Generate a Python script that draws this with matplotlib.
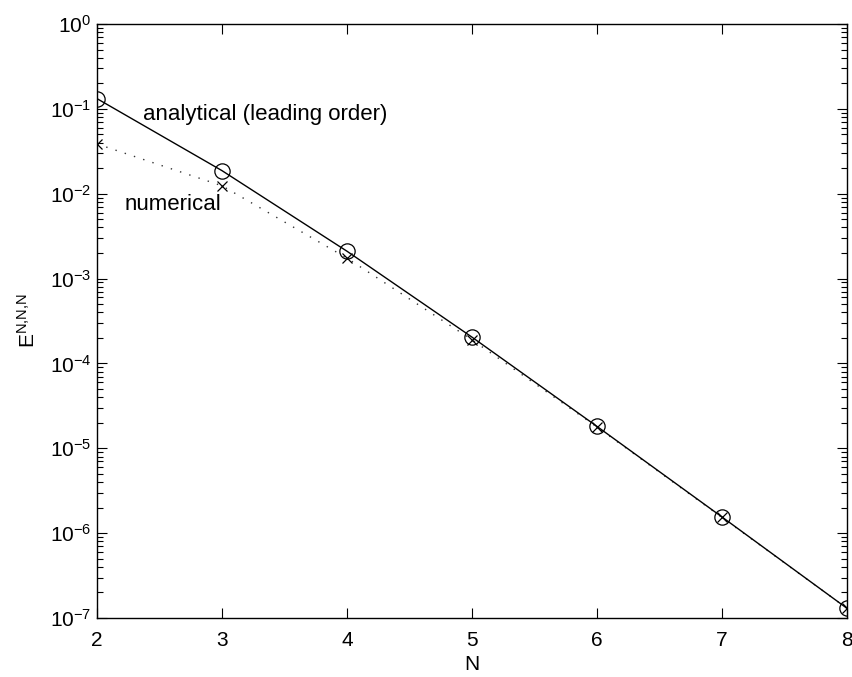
import matplotlib
matplotlib.use("Agg")
import matplotlib.pyplot as plt
from matplotlib.ticker import LogLocator, FixedLocator

plt.rcParams['font.family'] = ['Liberation Sans', 'DejaVu Sans']
plt.rcParams['mathtext.fontset'] = 'custom'
plt.rcParams['mathtext.rm'] = 'Liberation Sans'
plt.rcParams['mathtext.it'] = 'Liberation Sans:italic'
plt.rcParams['mathtext.bf'] = 'Liberation Sans:bold'
plt.rcParams['mathtext.default'] = 'regular'

N = [2, 3, 4, 5, 6, 7, 8]
analytical = [0.132, 0.0187, 0.0021, 2.04e-4, 1.81e-5, 1.55e-6, 1.3e-7]
numerical = [0.0386, 0.0124, 0.00174, 1.9e-4, 1.78e-5, 1.53e-6, 1.3e-7]

fig = plt.figure(figsize=(8.53, 6.77), dpi=100)
ax = fig.add_axes([97/853, 1 - 618/677, (847-97)/853, (618-24)/677])

ax.plot(N, numerical, linestyle=(0, (1, 6)), color='#333333', lw=1.0)
ax.plot(N, numerical, linestyle='none', marker='x', color='black', ms=7, mew=0.9)
ax.plot(N, analytical, linestyle='-', color='black', lw=1.0)
ax.plot(N, analytical, linestyle='none', marker='o', mfc='none', mec='black', ms=11, mew=0.9)

ax.set_yscale('log')
ax.set_xlim(2, 8)
ax.set_ylim(1e-7, 1e0)
ax.xaxis.set_major_locator(FixedLocator(N))
ax.yaxis.set_major_locator(LogLocator(base=10, numticks=20))
ax.yaxis.set_minor_locator(LogLocator(base=10, subs=range(2, 10), numticks=20))
ax.tick_params(axis='both', which='both', direction='in', top=True, right=True,
               labelsize=15, width=0.8)
ax.tick_params(which='major', length=7)
ax.tick_params(which='minor', length=4)
ax.tick_params(axis='x', pad=9)
ax.tick_params(axis='y', pad=4)
for s in ax.spines.values():
    s.set_linewidth(1.0)

ax.set_xlabel('N', fontsize=15, labelpad=4)
ax.set_ylabel(r'$\mathrm{E}^{\mathrm{N{,}N{,}N}}$', fontsize=15, labelpad=8)

ax.text(2.37, 0.074, 'analytical (leading order)', fontsize=16, ha='left', va='baseline')
ax.text(2.224, 0.0064, 'numerical', fontsize=16, ha='left', va='baseline')

fig.savefig('out.png', dpi=100)
